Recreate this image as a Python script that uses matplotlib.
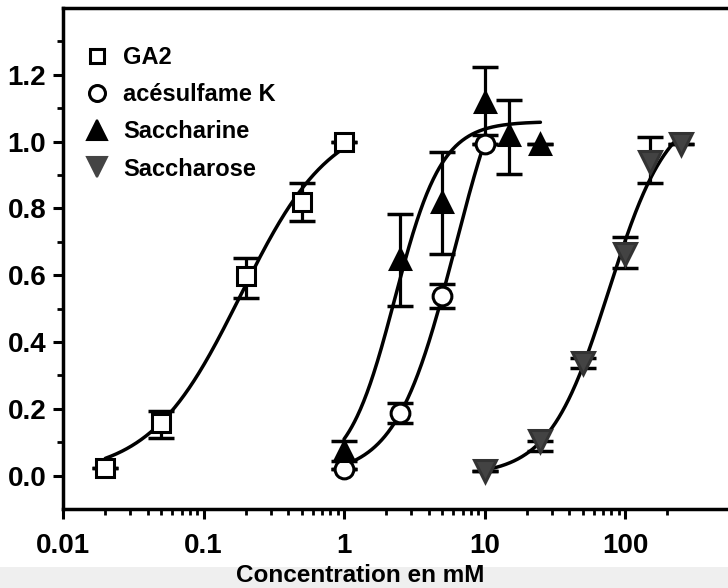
import numpy as np
import matplotlib
matplotlib.use("Agg")
import matplotlib.pyplot as plt
from matplotlib.lines import Line2D
from matplotlib.patches import Rectangle
from matplotlib.ticker import FixedLocator, NullFormatter

# ---------------- data ----------------
ga2_x = [0.02, 0.05, 0.2, 0.5, 1.0]
ga2_y = [0.024, 0.158, 0.597, 0.82, 1.0]
ga2_lo = [0.0, 0.045, 0.066, 0.059, 0.0]
ga2_hi = [0.0, 0.036, 0.054, 0.055, 0.0]

ace_x = [1.0, 2.5, 5.0, 10.0]
ace_y = [0.02, 0.188, 0.537, 0.994]
ace_lo = [0.0, 0.03, 0.036, 0.0]
ace_hi = [0.0, 0.03, 0.036, 0.0]

sac_x = [1.0, 2.5, 5.0, 10.0, 15.0, 25.0]
sac_y = [0.075, 0.65, 0.82, 1.12, 1.02, 0.994]
sac_lo = [0.03, 0.143, 0.157, 0.10, 0.116, 0.0]
sac_hi = [0.03, 0.132, 0.15, 0.104, 0.105, 0.0]

sucr_x = [10.0, 25.0, 50.0, 100.0, 150.0, 250.0]
sucr_y = [0.015, 0.104, 0.337, 0.663, 0.94, 0.994]
sucr_lo = [0.0, 0.03, 0.015, 0.042, 0.065, 0.0]
sucr_hi = [0.0, 0.0, 0.015, 0.05, 0.075, 0.0]

# dose-response curve of Saccharine as drawn in the figure (top, EC50, Hill n)
sac_curve = [1.06, 2.3, 2.6]

labels = ["GA2", "acésulfame K", "Saccharine", "Saccharose"]
xtick_vals = [0.01, 0.1, 1, 10, 100]
xtick_labels = ["0.01", "0.1", "1", "10", "100"]
ytick_vals = [0.0, 0.2, 0.4, 0.6, 0.8, 1.0, 1.2]
ytick_labels = ["0.0", "0.2", "0.4", "0.6", "0.8", "1.0", "1.2"]
xlabel = "Concentration en mM"

# ---------------- helpers ----------------
def hill(x, top, ec50, n):
    return top / (1.0 + (ec50 / x) ** n)

def fit_hill(x, y):
    x = np.asarray(x, float)
    y = np.asarray(y, float)
    ec = np.logspace(np.log10(x.min()), np.log10(x.max()), 121)
    nn = np.linspace(0.5, 5.0, 91)
    tp = np.linspace(0.8, 1.4, 61)
    E, N, T = np.meshgrid(ec, nn, tp, indexing="ij")
    pred = T[..., None] / (1.0 + (E[..., None] / x) ** N[..., None])
    sse = ((pred - y) ** 2).sum(-1)
    i = np.unravel_index(np.argmin(sse), sse.shape)
    return T[i], E[i], N[i]

plt.rcParams["font.family"] = ["Liberation Sans", "DejaVu Sans"]
plt.rcParams["font.weight"] = "bold"

fig = plt.figure(figsize=(7.28, 5.88), dpi=100)
fig.patches.append(Rectangle((0, 0), 1, 21 / 588, transform=fig.transFigure,
                             facecolor="#efefef", edgecolor="none", zorder=-5))
ax = fig.add_axes([63 / 728, (588 - 509) / 588, (765.5 - 63) / 728, (509 - 8) / 588])
ax.set_xscale("log")
ax.set_xlim(0.01, 1000)
ax.set_ylim(-0.1, 1.4)

series = [
    (ga2_x, ga2_y, ga2_lo, ga2_hi, None,
     dict(marker="s", ms=13, mfc="white", mec="black")),
    (ace_x, ace_y, ace_lo, ace_hi, None,
     dict(marker="o", ms=13.5, mfc="white", mec="black")),
    (sac_x, sac_y, sac_lo, sac_hi, sac_curve,
     dict(marker="^", ms=15, mfc="black", mec="black")),
    (sucr_x, sucr_y, sucr_lo, sucr_hi, None,
     dict(marker="v", ms=16, mfc="#434343", mec="#333333")),
]

lw = 2.5
for k, (x, y, lo, hi, curve, mk) in enumerate(series):
    x = np.asarray(x); y = np.asarray(y)
    ax.errorbar(x, y, yerr=[lo, hi], fmt="none", ecolor="black", elinewidth=2.3,
                capsize=9.5, capthick=2.5, zorder=2)
    top, ec50, n = curve if curve is not None else fit_hill(x, y)
    xx = np.logspace(np.log10(x.min()), np.log10(x.max()), 300)
    ax.plot(xx, hill(xx, top, ec50, n), color="black", lw=lw, zorder=3,
            solid_capstyle="round")
    ax.plot(x, y, linestyle="none", mew=2.2, zorder=4 + k, **mk)

# ticks
minor = [m * 10.0 ** e for e in range(-2, 2) for m in range(2, 10)] + [200]
ax.xaxis.set_major_locator(FixedLocator(xtick_vals))
ax.set_xticklabels(xtick_labels)
ax.xaxis.set_minor_locator(FixedLocator(minor))
ax.xaxis.set_minor_formatter(NullFormatter())
ax.yaxis.set_major_locator(FixedLocator(ytick_vals))
ax.set_yticklabels(ytick_labels)
ax.yaxis.set_minor_locator(FixedLocator([0.1, 0.3, 0.5, 0.7, 0.9, 1.1, 1.3]))

ax.tick_params(which="major", direction="out", length=7, width=2.2, labelsize=20)
ax.tick_params(axis="x", which="major", pad=10)
ax.tick_params(axis="y", which="major", pad=5)
ax.tick_params(which="minor", direction="out", length=4, width=2.0)
for t in ax.get_xticklabels() + ax.get_yticklabels():
    t.set_fontweight("bold")

for s in ["left", "bottom", "top"]:
    ax.spines[s].set_linewidth(2.5)
ax.spines["right"].set_visible(False)

ax.set_xlabel(xlabel, fontsize=17.5, fontweight="bold")
ax.xaxis.label.set_va("center")
ax.xaxis.set_label_coords((360 - 63) / 702.5, (509 - 575) / 501)

# legend
handles = [
    Line2D([], [], linestyle="none", marker="s", ms=10.5, mfc="white", mec="black", mew=2.2),
    Line2D([], [], linestyle="none", marker="o", ms=11.5, mfc="white", mec="black", mew=2.2),
    Line2D([], [], linestyle="none", marker="^", ms=15, mfc="black", mec="black", mew=1.5),
    Line2D([], [], linestyle="none", marker="v", ms=15, mfc="#444444", mec="#444444", mew=1.5),
]
leg = ax.legend(handles, labels, loc="upper left", frameon=False,
                bbox_to_anchor=((85 - 63) / 702.5, (509 - 46) / 501),
                borderaxespad=0, borderpad=0, handlelength=1.0, handletextpad=0.6,
                labelspacing=0.6, prop=dict(family=["Liberation Sans", "DejaVu Sans"],
                                            weight="bold", size=17))

fig.savefig("out.png", dpi=100)
